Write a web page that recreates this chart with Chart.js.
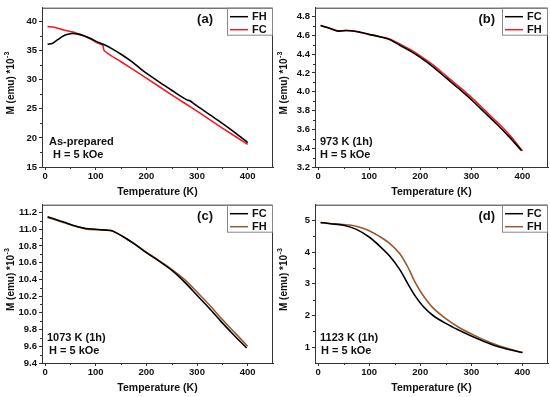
<!DOCTYPE html>
<html>
<head>
<meta charset="utf-8">
<script src="https://cdn.jsdelivr.net/npm/chart.js@4.4.1/dist/chart.umd.min.js"></script>
<style>
  html, body { margin: 0; padding: 0; background: #fff; }
  .panel { position: absolute; }
</style>
</head>
<body>
<div class="panel" style="left:0;top:0"><canvas id="chartA" width="275" height="197"></canvas></div>
<div class="panel" style="left:275px;top:0"><canvas id="chartB" width="275" height="197"></canvas></div>
<div class="panel" style="left:0;top:197px"><canvas id="chartC" width="275" height="200"></canvas></div>
<div class="panel" style="left:275px;top:197px"><canvas id="chartD" width="275" height="200"></canvas></div>
<script>
  // ── Data ─────────────────────────────────────────────────────────
  const xTicks = [0, 100, 200, 300, 400];
  const xMinor = [50, 150, 250, 350];

  // (a) as-prepared
  const tempA_FH = [5, 15, 25, 35, 45, 55, 65, 75, 90, 100, 115, 130, 150, 170, 190, 210, 230, 250, 270, 280, 287, 295, 325, 350, 375, 400];
  const magA_FH = [36.1, 36.3, 36.9, 37.5, 37.85, 37.95, 37.85, 37.6, 37.1, 36.65, 36.1, 35.45, 34.4, 33.2, 31.8, 30.55, 29.35, 28.2, 27.05, 26.55, 26.35, 25.8, 24.0, 22.5, 20.9, 19.2];
  const tempA_FC = [5, 20, 35, 50, 60, 75, 90, 100, 110, 114, 117, 150, 200, 250, 300, 350, 400];
  const magA_FC = [39.15, 39.0, 38.6, 38.3, 38.1, 37.6, 37.0, 36.5, 36.1, 35.95, 35.0, 33.1, 30.3, 27.4, 24.6, 21.7, 18.9];
  const yTicksA = [15, 20, 25, 30, 35, 40];
  const yMinorA = [17.5, 22.5, 27.5, 32.5, 37.5];

  // (b) 973 K (1h)
  const tempB_FC = [5, 20, 40, 55, 75, 100, 120, 140, 160, 180, 200, 225, 250, 275, 300, 325, 350, 375, 398];
  const magB_FC = [4.705, 4.68, 4.645, 4.652, 4.64, 4.61, 4.585, 4.555, 4.495, 4.435, 4.365, 4.265, 4.15, 4.035, 3.915, 3.785, 3.655, 3.515, 3.375];
  const tempB_FH = [5, 20, 40, 55, 75, 100, 120, 140, 160, 180, 200, 225, 250, 275, 300, 325, 350, 375, 400];
  const magB_FH = [4.705, 4.68, 4.645, 4.652, 4.64, 4.61, 4.588, 4.562, 4.508, 4.45, 4.382, 4.285, 4.172, 4.058, 3.94, 3.81, 3.68, 3.54, 3.37];
  const yTicksB = [3.2, 3.4, 3.6, 3.8, 4.0, 4.2, 4.4, 4.6, 4.8];
  const yMinorB = [3.3, 3.5, 3.7, 3.9, 4.1, 4.3, 4.5, 4.7];

  // (c) 1073 K (1h)
  const tempC_FC = [5, 20, 40, 60, 80, 100, 120, 130, 140, 160, 180, 200, 225, 250, 275, 300, 325, 350, 375, 398];
  const magC_FC = [11.15, 11.12, 11.08, 11.04, 11.01, 11.0, 10.99, 10.985, 10.96, 10.89, 10.81, 10.72, 10.62, 10.51, 10.37, 10.21, 10.05, 9.88, 9.72, 9.58];
  const tempC_FH = [5, 20, 40, 60, 80, 100, 120, 130, 140, 160, 180, 200, 225, 250, 275, 300, 325, 350, 375, 400];
  const magC_FH = [11.14, 11.115, 11.075, 11.035, 11.005, 10.995, 10.99, 10.985, 10.96, 10.89, 10.81, 10.725, 10.625, 10.52, 10.4, 10.25, 10.09, 9.92, 9.76, 9.6];
  const yTicksC = [9.4, 9.6, 9.8, 10.0, 10.2, 10.4, 10.6, 10.8, 11.0, 11.2];
  const yMinorC = [9.5, 9.7, 9.9, 10.1, 10.3, 10.5, 10.7, 10.9, 11.1];

  // (d) 1123 K (1h)
  const tempD_FC = [5, 25, 50, 75, 100, 120, 140, 160, 175, 190, 205, 225, 250, 275, 300, 325, 350, 375, 400];
  const magD_FC = [4.94, 4.9, 4.85, 4.72, 4.48, 4.2, 3.88, 3.45, 3.02, 2.62, 2.3, 2.0, 1.75, 1.54, 1.35, 1.18, 1.03, 0.92, 0.83];
  const tempD_FH = [5, 25, 50, 65, 85, 100, 120, 140, 160, 175, 190, 205, 225, 250, 275, 300, 325, 350, 375, 400];
  const magD_FH = [4.93, 4.9, 4.87, 4.85, 4.77, 4.68, 4.5, 4.28, 3.95, 3.55, 3.05, 2.65, 2.24, 1.9, 1.63, 1.42, 1.23, 1.07, 0.94, 0.83];
  const yTicksD = [1, 2, 3, 4, 5];
  const yMinorD = [1.5, 2.5, 3.5, 4.5];

  const BLACK = "#000000";
  const RED = "#ee1c25";
  const BROWN = "#9c5a2c";
  const AXIS = "#333333";
  const FONT = "'Liberation Sans', Arial, sans-serif";

  function pts(xs, ys) {
    return xs.map(function (x, i) { return { x: x, y: ys[i] }; });
  }

  // ── Decoration plugin: frame, minor ticks, titles, legend, notes ──
  const decor = {
    id: "decor",
    afterDraw: function (chart, args, o) {
      const ctx = chart.ctx;
      const ca = chart.chartArea;
      const sx = chart.scales.x;
      const sy = chart.scales.y;
      ctx.save();

      // top and right frame
      ctx.strokeStyle = AXIS;
      ctx.lineWidth = 1;
      ctx.beginPath();
      ctx.moveTo(ca.left, ca.top + 0.5);
      ctx.lineTo(ca.right - 0.5, ca.top + 0.5);
      ctx.lineTo(ca.right - 0.5, ca.bottom);
      ctx.stroke();

      // minor ticks
      ctx.beginPath();
      o.minorX.forEach(function (v) {
        const px = Math.round(sx.getPixelForValue(v)) + 0.5;
        ctx.moveTo(px, ca.bottom);
        ctx.lineTo(px, ca.bottom + 2);
      });
      o.minorY.forEach(function (v) {
        const py = Math.round(sy.getPixelForValue(v)) + 0.5;
        ctx.moveTo(ca.left, py);
        ctx.lineTo(ca.left - 2, py);
      });
      ctx.stroke();

      ctx.fillStyle = "#111";

      // x title
      ctx.font = "bold 10.5px " + FONT;
      ctx.textAlign = "center";
      ctx.textBaseline = "middle";
      ctx.fillText("Temperature (K)", (ca.left + ca.right) / 2, ca.bottom + 25);

      // y title with superscript
      ctx.save();
      ctx.translate(o.yTitleX, (ca.top + ca.bottom) / 2 - 4);
      ctx.rotate(-Math.PI / 2);
      ctx.font = "bold 10px " + FONT;
      const main = "M (emu) *10";
      const w1 = ctx.measureText(main).width;
      ctx.font = "bold 7px " + FONT;
      const w2 = ctx.measureText("-3").width;
      const start = -(w1 + w2) / 2;
      ctx.textAlign = "left";
      ctx.font = "bold 10px " + FONT;
      ctx.fillText(main, start, 0);
      ctx.font = "bold 7px " + FONT;
      ctx.fillText("-3", start + w1 + 0.5, -4);
      ctx.restore();

      // panel label
      ctx.font = "bold 13px " + FONT;
      ctx.textAlign = "right";
      ctx.fillText(o.label, ca.right - o.labelGap, ca.top + 12);

      // legend box
      const bw = 46, bh = 27;
      const bx = ca.right - bw;
      const by = ca.top;
      ctx.strokeStyle = "#888";
      ctx.strokeRect(bx + 0.5, by + 0.5, bw - 1, bh);
      ctx.font = "bold 11px " + FONT;
      ctx.textAlign = "left";
      chart.data.datasets.forEach(function (ds, i) {
        const ry = by + 9 + i * 13;
        ctx.strokeStyle = ds.borderColor;
        ctx.lineWidth = 1.5;
        ctx.beginPath();
        ctx.moveTo(bx + 3, ry);
        ctx.lineTo(bx + 21, ry);
        ctx.stroke();
        ctx.fillStyle = "#111";
        ctx.fillText(ds.label, bx + 25, ry + 0.5);
      });

      // notes
      ctx.font = "bold 11px " + FONT;
      ctx.textAlign = "left";
      ctx.fillText(o.note1, ca.left + o.note1X, ca.bottom - 25);
      ctx.fillText(o.note2, ca.left + o.note2X, ca.bottom - 12);

      ctx.restore();
    }
  };

  function makePanel(id, cfg) {
    new Chart(document.getElementById(id), {
      type: "line",
      data: {
        datasets: cfg.series.map(function (s) {
          return {
            label: s.label,
            data: pts(s.xs, s.ys),
            borderColor: s.color,
            borderWidth: 1.6,
            pointRadius: 0,
            tension: 0.3,
            fill: false,
          };
        }),
      },
      options: {
        responsive: false,
        animation: false,
        events: [],
        layout: { padding: { top: 5, right: 2, left: 0, bottom: 0 } },
        plugins: {
          legend: { display: false },
          tooltip: { enabled: false },
          decor: cfg.decor,
        },
        scales: {
          x: {
            type: "linear",
            min: -6,
            max: 450,
            afterBuildTicks: function (s) { s.ticks = xTicks.map(function (v) { return { value: v }; }); },
            afterFit: function (s) { s.height = cfg.xHeight; },
            grid: { drawOnChartArea: false, drawTicks: true, tickLength: 3, color: AXIS },
            border: { color: AXIS, width: 1 },
            ticks: { color: "#111", padding: 1, maxRotation: 0, font: { family: FONT, size: 9.5, weight: "bold" } },
          },
          y: {
            type: "linear",
            min: cfg.yMin,
            max: cfg.yMax,
            afterBuildTicks: function (s) { s.ticks = cfg.yTicks.map(function (v) { return { value: v }; }); },
            afterFit: function (s) { s.width = cfg.yWidth; },
            grid: { drawOnChartArea: false, drawTicks: true, tickLength: 3, color: AXIS },
            border: { color: AXIS, width: 1 },
            ticks: {
              color: "#111",
              padding: 2,
              font: { family: FONT, size: 9.5, weight: "bold" },
              callback: function (v) { return Number(v).toFixed(cfg.dec); },
            },
          },
        },
      },
      plugins: [decor],
    });
  }

  makePanel("chartA", {
    series: [
      { label: "FH", xs: tempA_FH, ys: magA_FH, color: BLACK },
      { label: "FC", xs: tempA_FC, ys: magA_FC, color: RED },
    ],
    yMin: 15, yMax: 42.4, yTicks: yTicksA, dec: 0, yWidth: 42, xHeight: 30,
    decor: { minorX: xMinor, minorY: yMinorA, label: "(a)", labelGap: 60, yTitleX: 11,
      note1: "As-prepared", note1X: 7, note2: "H = 5 kOe", note2X: 11 },
  });

  makePanel("chartB", {
    series: [
      { label: "FC", xs: tempB_FC, ys: magB_FC, color: BLACK },
      { label: "FH", xs: tempB_FH, ys: magB_FH, color: RED },
    ],
    yMin: 3.2, yMax: 4.894, yTicks: yTicksB, dec: 1, yWidth: 40, xHeight: 30,
    decor: { minorX: xMinor, minorY: yMinorB, label: "(b)", labelGap: 53, yTitleX: 9,
      note1: "973 K (1h)", note1X: 5, note2: "H = 5 kOe", note2X: 5 },
  });

  makePanel("chartC", {
    series: [
      { label: "FC", xs: tempC_FC, ys: magC_FC, color: BLACK },
      { label: "FH", xs: tempC_FH, ys: magC_FH, color: BROWN },
    ],
    yMin: 9.4, yMax: 11.294, yTicks: yTicksC, dec: 1, yWidth: 42, xHeight: 34,
    decor: { minorX: xMinor, minorY: yMinorC, label: "(c)", labelGap: 60, yTitleX: 11,
      note1: "1073 K (1h)", note1X: 5, note2: "H = 5 kOe", note2X: 7 },
  });

  makePanel("chartD", {
    series: [
      { label: "FC", xs: tempD_FC, ys: magD_FC, color: BLACK },
      { label: "FH", xs: tempD_FH, ys: magD_FH, color: BROWN },
    ],
    yMin: 0.5, yMax: 5.5, yTicks: yTicksD, dec: 0, yWidth: 40, xHeight: 34,
    decor: { minorX: xMinor, minorY: yMinorD, label: "(d)", labelGap: 53, yTitleX: 9,
      note1: "1123 K (1h)", note1X: 5, note2: "H = 5 kOe", note2X: 6 },
  });
</script>
</body>
</html>
